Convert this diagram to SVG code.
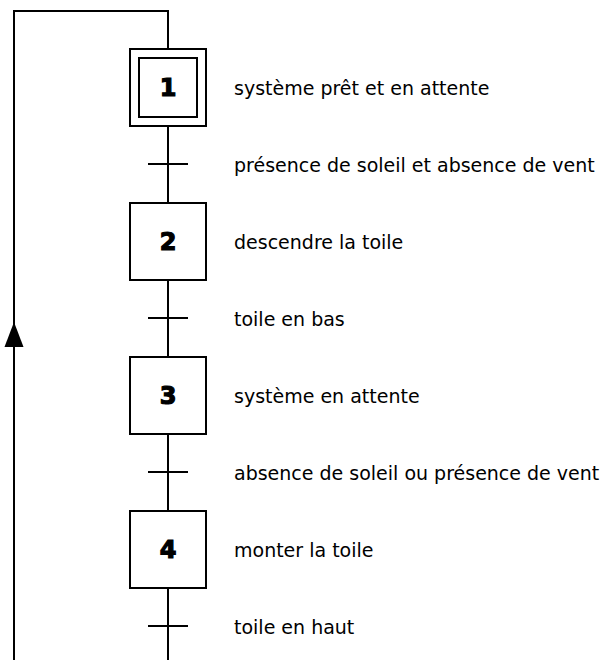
<svg xmlns="http://www.w3.org/2000/svg" width="610" height="660" viewBox="0 0 610 660">
<style>
.ln{stroke:#000;stroke-width:2;fill:none}
.box{stroke:#000;stroke-width:2;fill:#fff}
.lbl{font-family:"DejaVu Sans","Liberation Sans",sans-serif;font-size:19px;fill:#000}
.num{font-family:"DejaVu Sans","Liberation Sans",sans-serif;font-size:24px;font-weight:bold;fill:#000;stroke:#000;stroke-width:1.2;text-anchor:middle}
</style>
<g id="connectors">
<path class="ln" d="M14,660 V11 H168 V49"/>
<path class="ln" d="M168,126 V203"/>
<path class="ln" d="M168,280 V357"/>
<path class="ln" d="M168,434 V511"/>
<path class="ln" d="M168,588 V660"/>
<path d="M14,322 L4.5,347 L23.5,347 z" fill="#000"/>
</g>
<g id="step1">
<rect class="box" x="130" y="49" width="76" height="77"/>
<rect class="box" x="139" y="58" width="58" height="59"/>
<text class="num" x="168" y="96">1</text>
<text class="lbl" x="234" y="95">système prêt et en attente</text>
</g>
<g id="t1">
<line class="ln" x1="148" y1="164" x2="188" y2="164"/>
<text class="lbl" x="234" y="172">présence de soleil et absence de vent</text>
</g>
<g id="step2">
<rect class="box" x="130" y="203" width="76" height="77"/>
<text class="num" x="168" y="250">2</text>
<text class="lbl" x="234" y="249">descendre la toile</text>
</g>
<g id="t2">
<line class="ln" x1="148" y1="318" x2="188" y2="318"/>
<text class="lbl" x="234" y="326">toile en bas</text>
</g>
<g id="step3">
<rect class="box" x="130" y="357" width="76" height="77"/>
<text class="num" x="168" y="404">3</text>
<text class="lbl" x="234" y="403">système en attente</text>
</g>
<g id="t3">
<line class="ln" x1="148" y1="472" x2="188" y2="472"/>
<text class="lbl" x="234" y="480">absence de soleil ou présence de vent</text>
</g>
<g id="step4">
<rect class="box" x="130" y="511" width="76" height="77"/>
<text class="num" x="168" y="558">4</text>
<text class="lbl" x="234" y="557">monter la toile</text>
</g>
<g id="t4">
<line class="ln" x1="148" y1="626" x2="188" y2="626"/>
<text class="lbl" x="234" y="634">toile en haut</text>
</g>
</svg>
